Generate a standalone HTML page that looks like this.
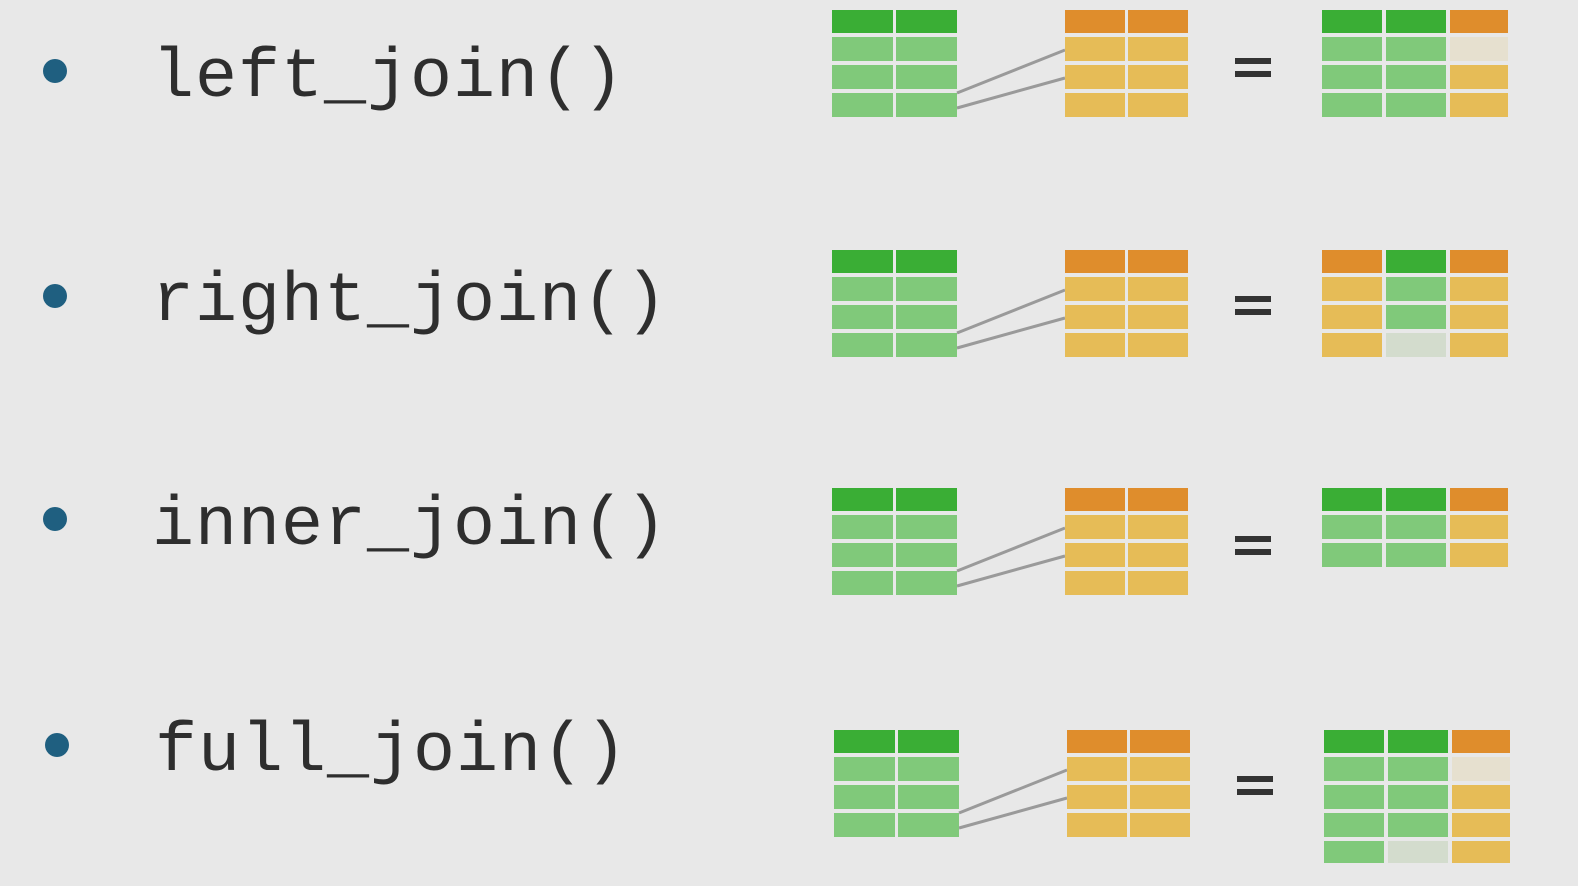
<!DOCTYPE html>
<html><head><style>
html,body{margin:0;padding:0;background:#e8e8e8;}
svg{display:block;}
text{font-family:"Liberation Mono","DejaVu Sans Mono",monospace;font-size:70px;fill:#2e2e2e;}
</style></head><body>
<svg width="1578" height="886" viewBox="0 0 1578 886" xmlns="http://www.w3.org/2000/svg">
<rect width="1578" height="886" fill="#e8e8e8"/>
<defs>
<g id="L"><!-- left green table -->
<rect x="0" y="0" width="61" height="23" fill="#3aae35"/><rect x="64" y="0" width="61" height="23" fill="#3aae35"/>
<rect x="0" y="27" width="61" height="24" fill="#80c97a"/><rect x="64" y="27" width="61" height="24" fill="#80c97a"/>
<rect x="0" y="55" width="61" height="24" fill="#80c97a"/><rect x="64" y="55" width="61" height="24" fill="#80c97a"/>
<rect x="0" y="83" width="61" height="24" fill="#80c97a"/><rect x="64" y="83" width="61" height="24" fill="#80c97a"/>
</g>
<g id="R"><!-- right orange table -->
<rect x="0" y="0" width="60" height="23" fill="#df8d2c"/><rect x="63" y="0" width="60" height="23" fill="#df8d2c"/>
<rect x="0" y="27" width="60" height="24" fill="#e6bc57"/><rect x="63" y="27" width="60" height="24" fill="#e6bc57"/>
<rect x="0" y="55" width="60" height="24" fill="#e6bc57"/><rect x="63" y="55" width="60" height="24" fill="#e6bc57"/>
<rect x="0" y="83" width="60" height="24" fill="#e6bc57"/><rect x="63" y="83" width="60" height="24" fill="#e6bc57"/>
</g>
<g id="EQ"><rect x="0" y="0" width="36" height="6" fill="#333"/><rect x="0" y="13" width="36" height="6" fill="#333"/></g>
</defs>

<!-- bullets & labels -->
<circle cx="55" cy="71" r="12" fill="#1f5f80"/>
<circle cx="55" cy="296" r="12" fill="#1f5f80"/>
<circle cx="55" cy="519" r="12" fill="#1f5f80"/>
<circle cx="57" cy="745" r="12" fill="#1f5f80"/>
<text x="152" y="96" textLength="472">left_join()</text>
<text x="152" y="320" textLength="515">right_join()</text>
<text x="152" y="544" textLength="515">inner_join()</text>
<text x="155" y="770" textLength="472">full_join()</text>

<g stroke="#9a9a9a" stroke-width="3">
<line x1="957" y1="93" x2="1065" y2="50"/><line x1="957" y1="108" x2="1065" y2="78"/>
<line x1="957" y1="333" x2="1065" y2="290"/><line x1="957" y1="348" x2="1065" y2="318"/>
<line x1="957" y1="571" x2="1065" y2="528"/><line x1="957" y1="586" x2="1065" y2="556"/>
<line x1="959" y1="813" x2="1067" y2="770"/><line x1="959" y1="828" x2="1067" y2="798"/>
</g>

<!-- row 1 -->
<use href="#L" x="832" y="10"/><use href="#R" x="1065" y="10"/><use href="#EQ" x="1235" y="58"/>
<g transform="translate(1322,10)">
<rect x="0" y="0" width="60" height="23" fill="#3aae35"/><rect x="64" y="0" width="60" height="23" fill="#3aae35"/><rect x="128" y="0" width="58" height="23" fill="#df8d2c"/>
<rect x="0" y="27" width="60" height="24" fill="#80c97a"/><rect x="64" y="27" width="60" height="24" fill="#80c97a"/><rect x="128" y="27" width="58" height="24" fill="#e6e0cf"/>
<rect x="0" y="55" width="60" height="24" fill="#80c97a"/><rect x="64" y="55" width="60" height="24" fill="#80c97a"/><rect x="128" y="55" width="58" height="24" fill="#e6bc57"/>
<rect x="0" y="83" width="60" height="24" fill="#80c97a"/><rect x="64" y="83" width="60" height="24" fill="#80c97a"/><rect x="128" y="83" width="58" height="24" fill="#e6bc57"/>
</g>

<!-- row 2 -->
<use href="#L" x="832" y="250"/><use href="#R" x="1065" y="250"/><use href="#EQ" x="1235" y="296"/>
<g transform="translate(1322,250)">
<rect x="0" y="0" width="60" height="23" fill="#df8d2c"/><rect x="64" y="0" width="60" height="23" fill="#3aae35"/><rect x="128" y="0" width="58" height="23" fill="#df8d2c"/>
<rect x="0" y="27" width="60" height="24" fill="#e6bc57"/><rect x="64" y="27" width="60" height="24" fill="#80c97a"/><rect x="128" y="27" width="58" height="24" fill="#e6bc57"/>
<rect x="0" y="55" width="60" height="24" fill="#e6bc57"/><rect x="64" y="55" width="60" height="24" fill="#80c97a"/><rect x="128" y="55" width="58" height="24" fill="#e6bc57"/>
<rect x="0" y="83" width="60" height="24" fill="#e6bc57"/><rect x="64" y="83" width="60" height="24" fill="#d3dccd"/><rect x="128" y="83" width="58" height="24" fill="#e6bc57"/>
</g>

<!-- row 3 -->
<use href="#L" x="832" y="488"/><use href="#R" x="1065" y="488"/><use href="#EQ" x="1235" y="536"/>
<g transform="translate(1322,488)">
<rect x="0" y="0" width="60" height="23" fill="#3aae35"/><rect x="64" y="0" width="60" height="23" fill="#3aae35"/><rect x="128" y="0" width="58" height="23" fill="#df8d2c"/>
<rect x="0" y="27" width="60" height="24" fill="#80c97a"/><rect x="64" y="27" width="60" height="24" fill="#80c97a"/><rect x="128" y="27" width="58" height="24" fill="#e6bc57"/>
<rect x="0" y="55" width="60" height="24" fill="#80c97a"/><rect x="64" y="55" width="60" height="24" fill="#80c97a"/><rect x="128" y="55" width="58" height="24" fill="#e6bc57"/>
</g>

<!-- row 4 -->
<use href="#L" x="834" y="730"/><use href="#R" x="1067" y="730"/><use href="#EQ" x="1237" y="776"/>
<g transform="translate(1324,730)">
<rect x="0" y="0" width="60" height="23" fill="#3aae35"/><rect x="64" y="0" width="60" height="23" fill="#3aae35"/><rect x="128" y="0" width="58" height="23" fill="#df8d2c"/>
<rect x="0" y="27" width="60" height="24" fill="#80c97a"/><rect x="64" y="27" width="60" height="24" fill="#80c97a"/><rect x="128" y="27" width="58" height="24" fill="#e6e0cf"/>
<rect x="0" y="55" width="60" height="24" fill="#80c97a"/><rect x="64" y="55" width="60" height="24" fill="#80c97a"/><rect x="128" y="55" width="58" height="24" fill="#e6bc57"/>
<rect x="0" y="83" width="60" height="24" fill="#80c97a"/><rect x="64" y="83" width="60" height="24" fill="#80c97a"/><rect x="128" y="83" width="58" height="24" fill="#e6bc57"/>
<rect x="0" y="111" width="60" height="22" fill="#80c97a"/><rect x="64" y="111" width="60" height="22" fill="#d3dccd"/><rect x="128" y="111" width="58" height="22" fill="#e6bc57"/>
</g>
</svg>
</body></html>
